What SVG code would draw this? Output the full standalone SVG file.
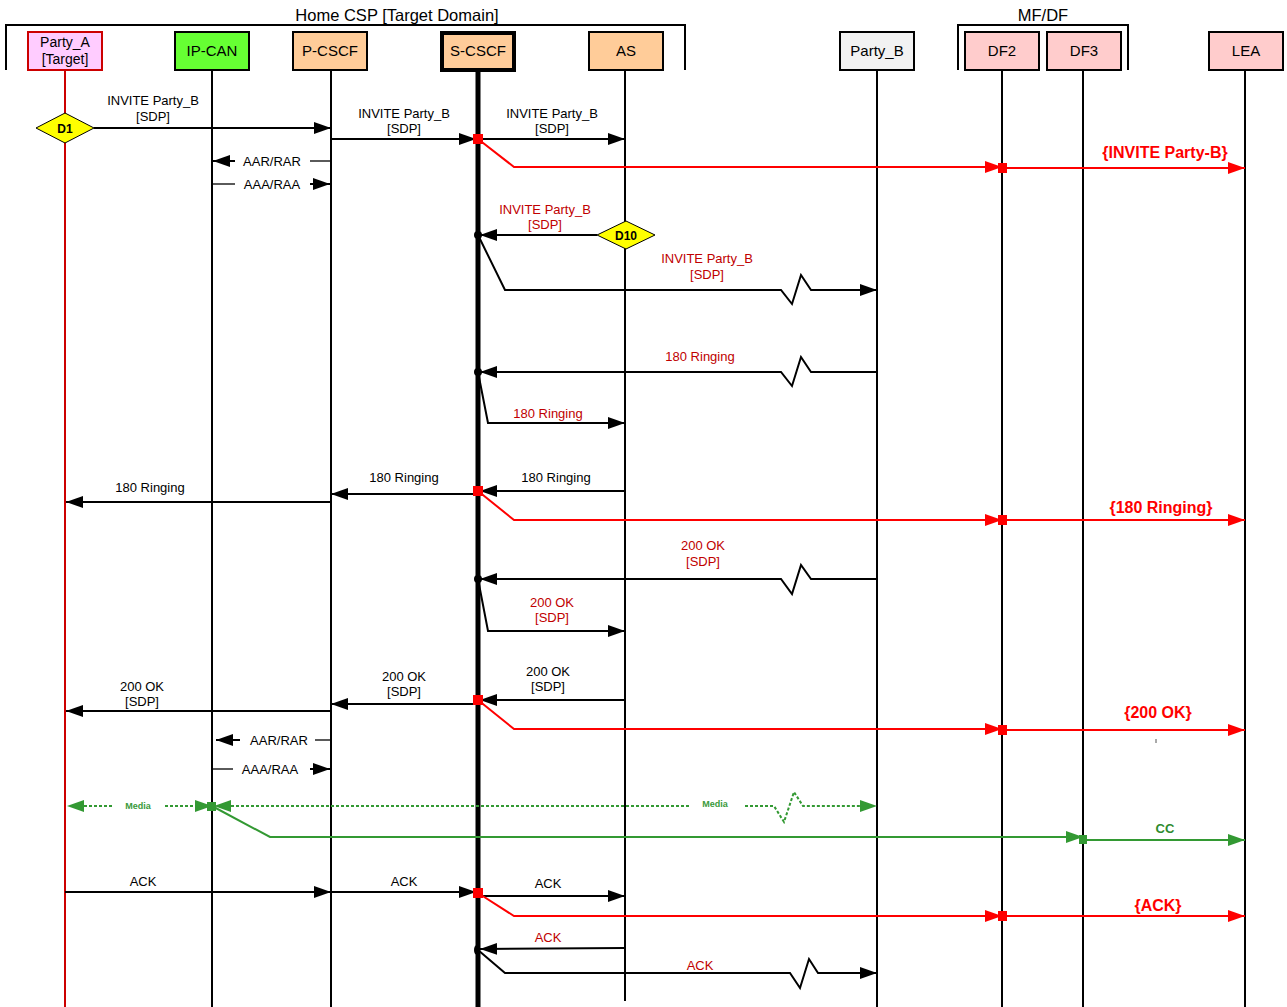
<svg xmlns="http://www.w3.org/2000/svg" width="1287" height="1007" viewBox="0 0 1287 1007">
<style>
text{font-family:"Liberation Sans",Arial,sans-serif;font-size:13px;text-anchor:middle;fill:#000}
.hdr{font-size:16.5px}
.box{stroke:#000;stroke-width:2}
.bl{font-size:15px}
.r{fill:#c00000}
.rb{fill:#ff0000;font-weight:bold;font-size:16px}
.gb{fill:#2e8b2e;font-weight:bold;font-size:13px}
.gm{fill:#3a9a3a;font-weight:bold;font-size:9px}
.ll{stroke:#000;stroke-width:2;fill:none}
.m{stroke:#000;stroke-width:2;fill:none;marker-end:url(#ab)}
.mr{stroke:#ff0000;stroke-width:2;fill:none;marker-end:url(#ar)}
.mg{stroke:#339933;stroke-width:2;fill:none;marker-end:url(#ag)}
.md{stroke:#339933;stroke-width:2;fill:none;stroke-dasharray:3 2}
.ga{fill:#339933}
.t{stroke:#000;stroke-width:1.3;fill:none}
</style>
<defs>
<marker id="ab" markerUnits="userSpaceOnUse" markerWidth="18" markerHeight="14" refX="17" refY="7" orient="auto"><path d="M0,1 L17,7 L0,13 z" fill="#000"/></marker>
<marker id="ar" markerUnits="userSpaceOnUse" markerWidth="18" markerHeight="14" refX="17" refY="7" orient="auto"><path d="M0,1 L17,7 L0,13 z" fill="#ff0000"/></marker>
<marker id="ag" markerUnits="userSpaceOnUse" markerWidth="18" markerHeight="14" refX="17" refY="7" orient="auto"><path d="M0,1 L17,7 L0,13 z" fill="#339933"/></marker>
</defs>

<!-- group brackets -->
<g id="home-csp">
<path d="M6,70 V25 H685 V70" class="ll"/>
<text x="397" y="21" class="hdr">Home CSP [Target Domain]</text>
</g>
<g id="mfdf">
<path d="M958,70 V25 H1128 V70" class="ll"/>
<text x="1043" y="21" class="hdr">MF/DF</text>
</g>

<!-- lifelines -->
<g id="lifelines">
<line x1="65" y1="70" x2="65" y2="1007" stroke="#cc0000" stroke-width="2"/>
<line x1="212" y1="70" x2="212" y2="1007" class="ll"/>
<line x1="331" y1="70" x2="331" y2="1007" class="ll"/>
<line x1="478" y1="70" x2="478" y2="1007" stroke="#000" stroke-width="5"/>
<line x1="625" y1="70" x2="625" y2="1001" class="ll"/>
<line x1="877" y1="70" x2="877" y2="1007" class="ll"/>
<line x1="1002" y1="70" x2="1002" y2="1007" class="ll"/>
<line x1="1083" y1="70" x2="1083" y2="1007" class="ll"/>
<line x1="1245" y1="70" x2="1245" y2="1007" class="ll"/>
</g>

<!-- nodes -->
<g id="party_a"><rect x="28" y="32" width="74" height="38" fill="#ffccff" stroke="#cc0000" stroke-width="2"/><text x="65" y="47" style="font-size:14px">Party_A</text><text x="65" y="64" style="font-size:14px">[Target]</text></g>
<g id="ip-can"><rect x="175" y="32" width="74" height="38" fill="#66ff33" class="box"/><text x="212" y="56" class="bl">IP-CAN</text></g>
<g id="p-cscf"><rect x="293" y="32" width="74" height="38" fill="#ffcc99" class="box"/><text x="330" y="56" class="bl">P-CSCF</text></g>
<g id="s-cscf"><rect x="442" y="33" width="72" height="37" fill="#ffcc99" stroke="#000" stroke-width="4"/><text x="478" y="56" class="bl">S-CSCF</text></g>
<g id="as"><rect x="589" y="32" width="74" height="38" fill="#ffcc99" class="box"/><text x="626" y="56" class="bl">AS</text></g>
<g id="party_b"><rect x="840" y="32" width="74" height="38" fill="#f2f2f2" class="box"/><text x="877" y="56" class="bl">Party_B</text></g>
<g id="df2"><rect x="965" y="32" width="74" height="38" fill="#ffcccc" class="box"/><text x="1002" y="56" class="bl">DF2</text></g>
<g id="df3"><rect x="1047" y="32" width="74" height="38" fill="#ffcccc" class="box"/><text x="1084" y="56" class="bl">DF3</text></g>
<g id="lea"><rect x="1209" y="32" width="74" height="38" fill="#ffcccc" class="box"/><text x="1246" y="56" class="bl">LEA</text></g>

<!-- connectors -->
<g id="connectors">
<!-- INVITE -->
<line x1="94" y1="128" x2="331" y2="128" class="m"/>
<text x="153" y="105">INVITE Party_B</text><text x="153" y="121">[SDP]</text>
<line x1="331" y1="139" x2="476" y2="139" class="m"/>
<text x="404" y="118">INVITE Party_B</text><text x="404" y="133">[SDP]</text>
<line x1="478" y1="139" x2="625" y2="139" class="m"/>
<text x="552" y="118">INVITE Party_B</text><text x="552" y="133">[SDP]</text>
<polyline points="478,139 514,167 1002,167" class="mr"/>
<line x1="1002" y1="168" x2="1245" y2="168" class="mr"/>
<text x="1165" y="158" class="rb">{INVITE Party-B}</text>

<!-- AAR/AAA -->
<line x1="331" y1="161" x2="310" y2="161" class="t" stroke-width="1"/>
<line x1="235" y1="161" x2="213" y2="161" class="m" stroke-width="1.3"/>
<text x="272" y="166">AAR/RAR</text>
<line x1="212" y1="184" x2="235" y2="184" class="t" stroke-width="1"/>
<line x1="310" y1="184" x2="330" y2="184" class="m" stroke-width="1.3"/>
<text x="272" y="189">AAA/RAA</text>

<!-- D10 -->
<line x1="597" y1="235" x2="480" y2="235" class="m"/>
<circle cx="478" cy="235" r="4" fill="#000"/>
<text x="545" y="214" class="r">INVITE Party_B</text><text x="545" y="229" class="r">[SDP]</text>
<polyline points="478,235 505,290 781,290 792,304 801,275 811,290 877,290" class="m"/>
<text x="707" y="263" class="r">INVITE Party_B</text><text x="707" y="279" class="r">[SDP]</text>

<!-- 180 Ringing -->
<polyline points="877,372 811,372 801,357 792,386 781,372 480,372" class="m"/>
<circle cx="478" cy="372" r="4" fill="#000"/>
<text x="700" y="361" class="r">180 Ringing</text>
<polyline points="478,372 488,423 625,423" class="m"/>
<text x="548" y="418" class="r">180 Ringing</text>
<line x1="625" y1="491" x2="480" y2="491" class="m"/>
<text x="556" y="482">180 Ringing</text>
<line x1="478" y1="494" x2="331" y2="494" class="m"/>
<text x="404" y="482">180 Ringing</text>
<line x1="331" y1="502" x2="66" y2="502" class="m"/>
<text x="150" y="492">180 Ringing</text>
<polyline points="478,491 514,520 1002,520" class="mr"/>
<line x1="1002" y1="520" x2="1245" y2="520" class="mr"/>
<text x="1161" y="513" class="rb">{180 Ringing}</text>

<!-- 200 OK -->
<polyline points="877,579 811,579 801,565 792,594 781,579 480,579" class="m"/>
<circle cx="478" cy="579" r="4" fill="#000"/>
<text x="703" y="550" class="r">200 OK</text><text x="703" y="566" class="r">[SDP]</text>
<polyline points="478,579 488,631 625,631" class="m"/>
<text x="552" y="607" class="r">200 OK</text><text x="552" y="622" class="r">[SDP]</text>
<line x1="625" y1="700" x2="480" y2="700" class="m"/>
<text x="548" y="676">200 OK</text><text x="548" y="691">[SDP]</text>
<line x1="478" y1="704" x2="331" y2="704" class="m"/>
<text x="404" y="681">200 OK</text><text x="404" y="696">[SDP]</text>
<line x1="331" y1="711" x2="66" y2="711" class="m"/>
<text x="142" y="691">200 OK</text><text x="142" y="706">[SDP]</text>
<polyline points="478,700 514,729 1002,729" class="mr"/>
<line x1="1002" y1="730" x2="1245" y2="730" class="mr"/>
<text x="1158" y="718" class="rb">{200 OK}</text>
<line x1="1156" y1="739" x2="1156" y2="743" stroke="#555" stroke-width="1"/>

<line x1="331" y1="740" x2="315" y2="740" class="t" stroke-width="1"/>
<line x1="240" y1="740" x2="216" y2="740" class="m" stroke-width="1.3"/>
<text x="279" y="745">AAR/RAR</text>
<line x1="212" y1="769" x2="233" y2="769" class="t" stroke-width="1"/>
<line x1="310" y1="769" x2="330" y2="769" class="m" stroke-width="1.3"/>
<text x="270" y="774">AAA/RAA</text>

<!-- Media -->
<polygon points="67,806 84,800 84,812" class="ga"/>
<line x1="84" y1="806" x2="113" y2="806" class="md"/>
<text x="138" y="809" class="gm">Media</text>
<line x1="165" y1="806" x2="196" y2="806" class="md"/>
<polygon points="212,806 195,800 195,812" class="ga"/>
<polygon points="214,806 231,800 231,812" class="ga"/>
<line x1="231" y1="806" x2="690" y2="806" class="md"/>
<text x="715" y="807" class="gm">Media</text>
<polyline points="745,806 774,806 784,822 794,792 803,806 860,806" class="md"/>
<polygon points="877,806 860,800 860,812" class="ga"/>
<polyline points="212,806 270,837 1083,837" class="mg"/>
<line x1="1083" y1="840" x2="1245" y2="840" class="mg"/>
<text x="1165" y="833" class="gb">CC</text>

<!-- ACK -->
<line x1="65" y1="892" x2="331" y2="892" class="m"/>
<text x="143" y="886">ACK</text>
<line x1="331" y1="892" x2="476" y2="892" class="m"/>
<text x="404" y="886">ACK</text>
<line x1="478" y1="896" x2="625" y2="896" class="m"/>
<text x="548" y="888">ACK</text>
<polyline points="478,893 514,916 1002,916" class="mr"/>
<line x1="1002" y1="916" x2="1245" y2="916" class="mr"/>
<text x="1158" y="911" class="rb">{ACK}</text>
<line x1="625" y1="948" x2="480" y2="949" class="m"/>
<ellipse cx="477" cy="950" rx="3" ry="5" fill="#000"/>
<text x="548" y="942" class="r">ACK</text>
<polyline points="478,950 505,973 790,973 800,988 809,959 818,973 877,973" class="m"/>
<text x="700" y="970" class="r">ACK</text>

<!-- red squares -->
<rect x="473" y="134" width="10" height="10" fill="#ff0000"/>
<rect x="998" y="163" width="9" height="10" fill="#ff0000"/>
<rect x="473" y="486" width="10" height="10" fill="#ff0000"/>
<rect x="998" y="515" width="9" height="10" fill="#ff0000"/>
<rect x="473" y="695" width="10" height="10" fill="#ff0000"/>
<rect x="998" y="725" width="9" height="10" fill="#ff0000"/>
<rect x="473" y="888" width="10" height="10" fill="#ff0000"/>
<rect x="998" y="911" width="9" height="10" fill="#ff0000"/>
<rect x="207" y="802" width="9" height="9" fill="#339933"/>
<rect x="1079" y="835" width="8" height="9" fill="#339933"/>
</g>

<!-- diamonds -->
<g id="d1"><polygon points="36,128 65,113 94,128 65,143" fill="#ffff00" stroke="#000" stroke-width="1"/><text x="65" y="133" style="font-weight:bold;font-size:12px">D1</text></g>
<g id="d10"><polygon points="597,235 626,221 655,235 626,249" fill="#ffff00" stroke="#000" stroke-width="1"/><text x="626" y="240" style="font-weight:bold;font-size:12px">D10</text></g>
</svg>
